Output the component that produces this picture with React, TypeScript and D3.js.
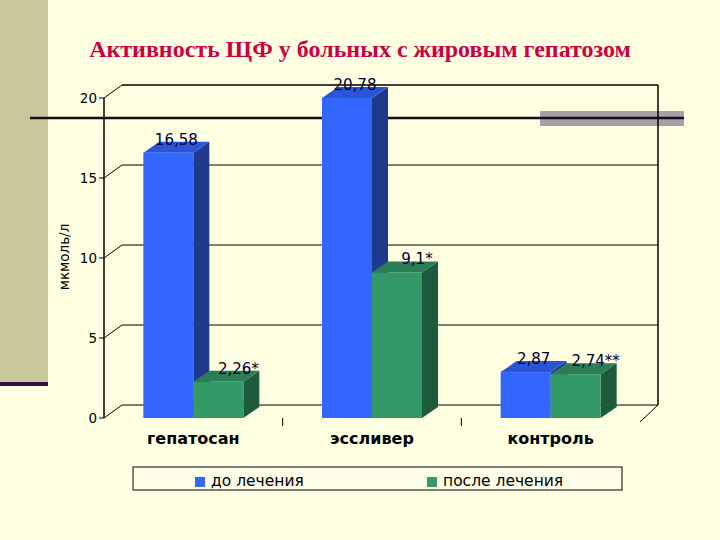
import React from "react";
import * as d3 from "d3";

const categories = ["гепатосан", "эссливер", "контроль"];
const seriesNames = ["до лечения", "после лечения"];
const beforeValues = [16.58, 20.78, 2.87];
const afterValues = [2.26, 9.1, 2.74];
const beforeLabels = ["16,58", "20,78", "2,87"];
const afterLabels = ["2,26*", "9,1*", "2,74**"];
const yTicks = [0, 5, 10, 15, 20];

const title = "Активность ЩФ у больных с жировым гепатозом";
const yTitle = "мкмоль/л";

const width = 720;
const height = 540;
const plot = { left: 104, right: 640, top: 98, bottom: 418 };
const wall = { dx: 18, dy: -13 };
const depth = { dx: 16, dy: -11 };

const colors = [
  { front: "#3366ff", top: "#2b55d8", side: "#1f3a8c" },
  { front: "#339966", top: "#2b7d55", side: "#1e5a3c" },
];

const sans = "'DejaVu Sans', Verdana, sans-serif";

export default function App() {
  const yScale = d3.scaleLinear().domain([0, 20]).range([plot.bottom, plot.top]);
  // Excel cuts bars off at the axis maximum
  const yClamp = yScale.copy().clamp(true);
  const xScale = d3.scaleBand().domain(categories).range([plot.left, plot.right]);
  const inner = d3.scaleBand().domain(seriesNames).range([0, 100]);
  const groupOffset = (xScale.bandwidth() - 100) / 2;

  const series = [
    { name: seriesNames[0], values: beforeValues, labels: beforeLabels },
    { name: seriesNames[1], values: afterValues, labels: afterLabels },
  ];

  const bars = categories.flatMap((c, ci) =>
    series.map((s, si) => {
      const x0 = (xScale(c) ?? 0) + groupOffset + (inner(s.name) ?? 0);
      const x1 = x0 + inner.bandwidth();
      const yTop = yClamp(s.values[ci]);
      const y0 = plot.bottom;
      return { ci, si, x0, x1, yTop, y0, value: s.values[ci], label: s.labels[ci] };
    })
  );

  return (
    <svg
      width={width}
      height={height}
      style={{ position: "absolute", left: 0, top: 0, display: "block" }}
    >
      <rect x={0} y={0} width={width} height={height} fill="#fefee0" />
      <rect x={0} y={0} width={48} height={382} fill="#c8c89a" />
      <rect x={0} y={382} width={48} height={4} fill="#3a1040" />

      <text
        x={360}
        y={57}
        textAnchor="middle"
        fontFamily="'Liberation Serif', 'Times New Roman', serif"
        fontWeight="bold"
        fontSize={24}
        fill="#cc0044"
      >
        {title}
      </text>

      <rect x={540} y={111} width={144} height={15} fill="#a8a0a8" />

      {/* back wall */}
      <g stroke="#000" strokeWidth={1} fill="none">
        {yTicks.map((t) => (
          <g key={t}>
            {t > 0 && t < 20 && (
              <line
                x1={plot.left + wall.dx}
                x2={plot.right + wall.dx}
                y1={yScale(t) + wall.dy}
                y2={yScale(t) + wall.dy}
              />
            )}
            <line
              x1={plot.left}
              y1={yScale(t)}
              x2={plot.left + wall.dx}
              y2={yScale(t) + wall.dy}
            />
            <line x1={plot.left - 5} x2={plot.left} y1={yScale(t)} y2={yScale(t)} />
          </g>
        ))}
        <line
          x1={plot.left + wall.dx}
          x2={plot.right + wall.dx}
          y1={yScale(20) + wall.dy}
          y2={yScale(20) + wall.dy}
          strokeWidth={1.5}
        />
        <line
          x1={plot.left + wall.dx}
          x2={plot.right + wall.dx}
          y1={yScale(0) + wall.dy}
          y2={yScale(0) + wall.dy}
        />
        <line
          x1={plot.right + wall.dx}
          x2={plot.right + wall.dx}
          y1={yScale(20) + wall.dy}
          y2={yScale(0) + wall.dy}
          strokeWidth={1.5}
        />
        <line x1={plot.left} x2={plot.left} y1={yScale(20)} y2={yScale(0)} strokeWidth={1.5} />
        <line
          x1={plot.right}
          y1={plot.bottom + 4}
          x2={plot.right + wall.dx}
          y2={plot.bottom + wall.dy}
        />
        {categories.slice(1).map((c) => (
          <line
            key={c}
            x1={xScale(c)}
            x2={xScale(c)}
            y1={plot.bottom}
            y2={plot.bottom + 8}
          />
        ))}
      </g>

      <line x1={30} x2={684} y1={118} y2={118} stroke="#1a0a1a" strokeWidth={2.5} />

      {/* bars */}
      {bars.map((b) => {
        const c = colors[b.si];
        const { x0, x1, yTop, y0 } = b;
        const { dx, dy } = depth;
        return (
          <g key={`${b.ci}-${b.si}`}>
            <polygon
              points={`${x1},${yTop} ${x1 + dx},${yTop + dy} ${x1 + dx},${y0 + dy} ${x1},${y0}`}
              fill={c.side}
            />
            <polygon
              points={`${x0},${yTop} ${x0 + dx},${yTop + dy} ${x1 + dx},${yTop + dy} ${x1},${yTop}`}
              fill={c.top}
            />
            <rect x={x0} y={yTop} width={x1 - x0} height={y0 - yTop} fill={c.front} />
          </g>
        );
      })}

      {/* data labels */}
      {bars.map((b) => (
        <text
          key={`l-${b.ci}-${b.si}`}
          x={(b.x0 + b.x1) / 2 + 8 + b.si * 12}
          y={b.yTop - 8}
          textAnchor="middle"
          fontFamily={sans}
          fontSize={15}
          fill="#000033"
        >
          {b.label}
        </text>
      ))}

      {/* y axis labels */}
      {yTicks.map((t) => (
        <text
          key={`t-${t}`}
          x={plot.left - 7}
          y={yScale(t) + 5}
          textAnchor="end"
          fontFamily={sans}
          fontSize={13.5}
          fill="#000"
        >
          {t}
        </text>
      ))}
      <text
        transform={`translate(69, 257) rotate(-90)`}
        textAnchor="middle"
        fontFamily={sans}
        fontSize={13.5}
        fill="#000"
      >
        {yTitle}
      </text>

      {/* category labels */}
      {categories.map((c) => (
        <text
          key={c}
          x={(xScale(c) ?? 0) + xScale.bandwidth() / 2}
          y={444}
          textAnchor="middle"
          fontFamily={sans}
          fontWeight="bold"
          fontSize={16}
          fill="#000"
        >
          {c}
        </text>
      ))}

      {/* legend */}
      <rect x={133} y={467} width={489} height={23} fill="#fefee8" stroke="#000" strokeWidth={1} />
      {seriesNames.map((s, i) => (
        <g key={s} transform={`translate(${i === 0 ? 195 : 427}, 0)`}>
          <rect x={0} y={477} width={10} height={10} fill={colors[i].front} />
          <text x={16} y={486} fontFamily={sans} fontSize={15.5} fill="#000">
            {s}
          </text>
        </g>
      ))}
    </svg>
  );
}
